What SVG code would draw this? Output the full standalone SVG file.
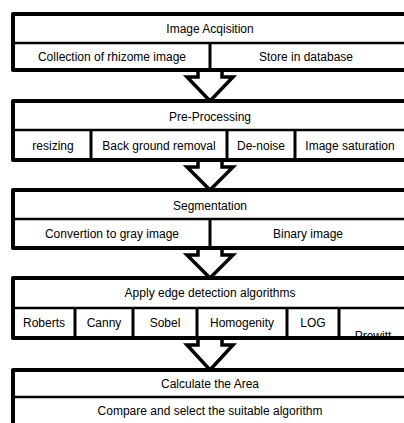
<svg xmlns="http://www.w3.org/2000/svg" width="404" height="423" viewBox="0 0 404 423">
<style>
.box{fill:#fff;stroke:#000;stroke-width:4;stroke-linejoin:round}
.div{stroke:#000;stroke-width:3;fill:none}
.hdiv{stroke:#000;stroke-width:2.5;fill:none}
.arr{fill:#fff;stroke:#000;stroke-width:3.5;stroke-linejoin:miter}
text{font-family:"Liberation Sans",Arial,sans-serif;font-size:12px;fill:#000;text-anchor:middle;dominant-baseline:central}
</style>
<rect width="404" height="423" fill="#fff"/>
<g id="connectors">
<polygon class="arr" points="198,70 222,70 222,77 233,77 210,101 187,77 198,77"/>
<polygon class="arr" points="198,160 222,160 222,167 233,167 210,190 187,167 198,167"/>
<polygon class="arr" points="198,248 222,248 222,255 233,255 210,278 187,255 198,255"/>
<polygon class="arr" points="198,338 222,338 222,345 233,345 210,370 187,345 198,345"/>
</g>
<g id="image-acquisition">
<rect class="box" x="13" y="14" width="394" height="56"/>
<line class="hdiv" x1="13" y1="43" x2="407" y2="43"/>
<line class="div" x1="210" y1="43" x2="210" y2="70"/>
<text x="210" y="28.5">Image Acqisition</text>
<text x="112" y="57">Collection of rhizome image</text>
<text x="306" y="57">Store in database</text>
</g>
<g id="pre-processing">
<rect class="box" x="13" y="101" width="394" height="59"/>
<line class="hdiv" x1="13" y1="130" x2="407" y2="130"/>
<line class="div" x1="91" y1="130" x2="91" y2="160"/>
<line class="div" x1="227" y1="130" x2="227" y2="160"/>
<line class="div" x1="295" y1="130" x2="295" y2="160"/>
<text x="210" y="116.5">Pre-Processing</text>
<text x="53" y="146">resizing</text>
<text x="159" y="146">Back ground removal</text>
<text x="261" y="146">De-noise</text>
<text x="350" y="146">Image saturation</text>
</g>
<g id="segmentation">
<rect class="box" x="13" y="190" width="394" height="58"/>
<line class="hdiv" x1="13" y1="219" x2="407" y2="219"/>
<line class="div" x1="210" y1="219" x2="210" y2="248"/>
<text x="210" y="205.5">Segmentation</text>
<text x="112" y="234">Convertion to gray image</text>
<text x="308" y="234">Binary image</text>
</g>
<g id="edge-detection">
<rect class="box" x="13" y="278" width="394" height="60"/>
<line class="hdiv" x1="13" y1="308" x2="407" y2="308"/>
<line class="div" x1="75" y1="308" x2="75" y2="338"/>
<line class="div" x1="133" y1="308" x2="133" y2="338"/>
<line class="div" x1="197" y1="308" x2="197" y2="338"/>
<line class="div" x1="287" y1="308" x2="287" y2="338"/>
<line class="div" x1="339" y1="308" x2="339" y2="338"/>
<text x="210" y="293">Apply  edge detection algorithms</text>
<text x="44" y="322.5">Roberts</text>
<text x="104" y="322.5">Canny</text>
<text x="165" y="322.5">Sobel</text>
<text x="242" y="322.5">Homogenity</text>
<text x="313" y="322.5">LOG</text>
<text x="373" y="335.5">Prewitt</text>
<line x1="339" y1="338" x2="407" y2="338" stroke="#000" stroke-width="4"/>
</g>
<g id="calculate-area">
<rect class="box" x="13" y="370" width="394" height="60"/>
<line class="hdiv" x1="13" y1="397" x2="407" y2="397"/>
<text x="210" y="384">Calculate the Area</text>
<text x="210" y="411">Compare and select the suitable algorithm</text>
</g>
</svg>
